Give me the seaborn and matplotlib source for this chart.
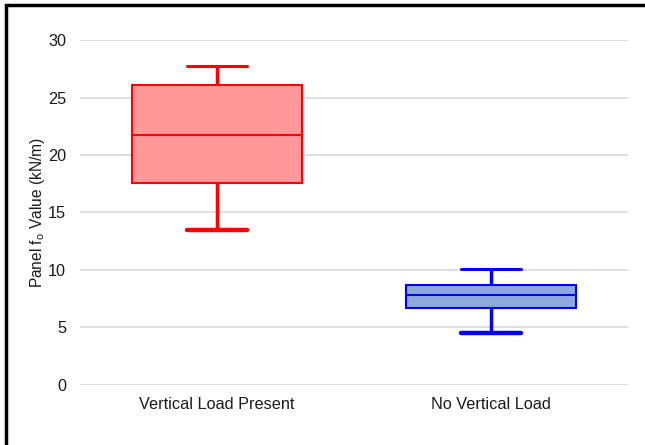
import numpy as np
import pandas as pd
import matplotlib as mpl
import matplotlib.pyplot as plt
import seaborn as sns
from matplotlib.patches import Rectangle

# Data (five-number summaries)
# --------------
categories = ["Vertical Load Present", "No Vertical Load"]
loaded_values = [13.5, 17.6, 21.7, 26.1, 27.7]
unloaded_values = [4.5, 6.7, 7.8, 8.7, 10.1]
face_colors = ["#FF9999", "#8EA9DB"]
edge_colors = ["#FF0000", "#0000FF"]
y_ticks = [0, 5, 10, 15, 20, 25, 30]

# Set-up
# --------------
sns.set_theme(style="whitegrid")
sns.set_style("whitegrid", {"grid.color": "#d9d9d9", "axes.edgecolor": "white"})
plt.rcParams["font.family"] = ["Liberation Sans", "DejaVu Sans"]
plt.rcParams["mathtext.fontset"] = "custom"
plt.rcParams["mathtext.rm"] = "Liberation Sans"

data = pd.DataFrame({
    "group": [categories[0]] * len(loaded_values) + [categories[1]] * len(unloaded_values),
    "value": loaded_values + unloaded_values,
})

figure = plt.figure(figsize=(6.45, 4.45), dpi=100)
ax = figure.add_axes([0.124, 0.135, 0.85, 0.775])

# Plotting
# --------------
for cat, face, edge in zip(categories, face_colors, edge_colors):
    n_before = len(ax.lines)
    sns.boxplot(
        data=data[data["group"] == cat], x="group", y="value",
        order=categories, color=face, linecolor=edge, saturation=1,
        width=0.62, whis=3, linewidth=1.5, ax=ax,
        whiskerprops={"linewidth": 2.5},
        capprops={"linewidth": 2.2},
        capwidths=0.22,
    )
    # lower cap drawn a bit heavier, like the source
    ax.lines[n_before + 2].set_linewidth(3.2)

ax.set_ylim(0, 30)
ax.set_yticks(y_ticks)
ax.set_xlim(-0.5, 1.5)
ax.grid(axis="y", color="#d9d9d9", linewidth=1.2)
ax.grid(axis="x", visible=False)
ax.set_axisbelow(True)
for spine in ax.spines.values():
    spine.set_visible(False)
ax.tick_params(axis="both", length=0, labelsize=11.7, colors="#1a1a1a")
ax.tick_params(axis="x", pad=9)
ax.tick_params(axis="y", pad=10)
ax.set_xlabel("")
ax.set_ylabel(r"Panel f$_\mathregular{o}$ Value (kN/m)", fontsize=11.2, color="#1a1a1a", labelpad=1)

# outer frame
figure.add_artist(Rectangle((0.0093, -0.2), 1.2, 1.189, transform=figure.transFigure,
                            fill=False, edgecolor="black", linewidth=2.5))

# Rendering
# --------------
figure.savefig("out.png", dpi=100)
